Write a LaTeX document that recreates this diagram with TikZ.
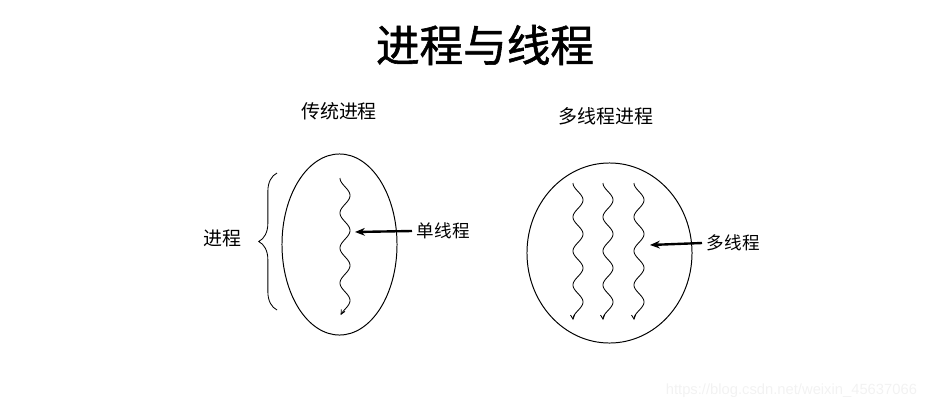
\documentclass[tikz,border=0pt]{standalone}
\usepackage{fontspec}
\newfontfamily\cjk{Noto Sans CJK SC}
\newfontfamily\cjkhead[FakeBold=1.3]{Noto Sans CJK SC}
\setsansfont{Liberation Sans}
\usetikzlibrary{shapes.geometric,arrows.meta,decorations.pathreplacing,positioning}

\begin{document}
\begin{tikzpicture}[
        x=0.025cm, y=-0.025cm,
        every node/.style={font=\cjk},
        titletext/.style={font=\cjkhead\fontsize{31}{36}\selectfont},
        subtitle/.style={font=\cjk\fontsize{13.5}{16}\selectfont},
        tag/.style={font=\cjk\fontsize{12.5}{15}\selectfont, anchor=west},
        body/.style={draw, ellipse, line width=0.7pt, inner sep=0pt},
        thread/.style={line width=0.6pt, -{Straight Barb[length=3pt,width=3pt]}},
        pointer/.style={line width=1.7pt, -{Stealth[length=7pt,width=5.5pt]}},
    ]
        \useasboundingbox (0,0) rectangle (930,409);

        % --- Title ---
        \node[titletext] (title) at (485,45) {进程与线程};

        % --- Traditional process ---
        \node[subtitle] (tradname) at (339,111) {传统进程};
        \node[body, minimum width=2.875cm, minimum height=4.525cm] (trad) at (339.5,244.5) {};
        \draw[thread] plot[domain=0:137, samples=150, variable=\t]
            ({345-5*cos(\t/35*360)}, {178+\t});
        \coordinate (singletip) at (355,232);
        \node[tag] (single) at (412,231) {单线程};
        \draw[pointer] (single.west) -- (singletip);

        % --- Brace and its label ---
        \coordinate (bracelow) at (277,310);
        \coordinate (bracehigh) at (277,173);
        \draw[line width=0.6pt, decorate, decoration={brace, amplitude=13pt}] (bracelow) -- (bracehigh);
        \node[subtitle] (proc) at (222,238) {进程};

        % --- Multithreaded process ---
        \node[subtitle] (multiname) at (606,116) {多线程进程};
        \node[body, minimum width=4.125cm, minimum height=4.5cm] (multi) at (609.5,253) {};
        \foreach \cx in {578,608,639}
            \draw[thread] plot[domain=0:137, samples=150, variable=\t]
                ({\cx-5*cos(\t/34*360)}, {183+\t});
        \coordinate (multitip) at (650,245);
        \node[tag] (many) at (702,243) {多线程};
        \draw[pointer] (many.west) -- (multitip);

        % --- Watermark ---
        \node[font=\sffamily\fontsize{10.5}{12}\selectfont, text=gray!10, anchor=east] (mark) at (922,391)
            {https://blog.csdn.net/weixin\_45637066};
    \end{tikzpicture}
\end{document}
